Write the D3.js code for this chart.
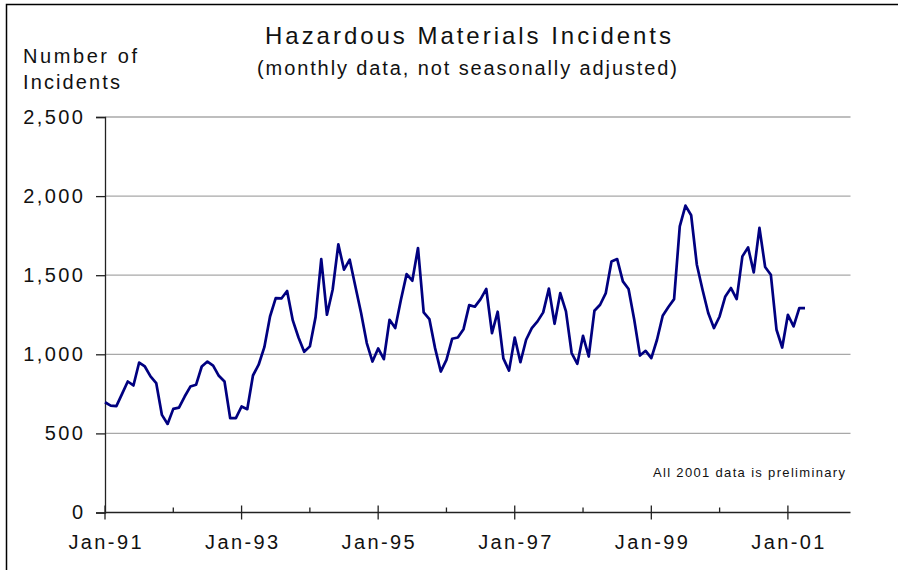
<!DOCTYPE html>
<html>
<head>
<meta charset="utf-8">
<script src="https://cdn.jsdelivr.net/npm/d3@7"></script>
<style>
  body { margin: 0; background: #fff; }
  svg { display: block; font-family: "Liberation Sans", Arial, sans-serif; }
</style>
</head>
<body>
<div id="chart"></div>
<script>
// monthly incidents, Jan-91 .. Apr-01
const startYear = 1991;
const incidents = [
  697, 676, 672, 750, 828, 803, 948, 923, 860, 818, 617, 560,
  655, 663, 733, 796, 807, 923, 954, 929, 864, 828, 596, 596,
  670, 653, 866, 934, 1045, 1239, 1355, 1353, 1400, 1214, 1106, 1016,
  1050, 1235, 1602, 1250, 1408, 1695, 1535, 1598, 1429, 1261, 1071, 954,
  1037, 969, 1218, 1166, 1345, 1507, 1465, 1672, 1265, 1223, 1039, 891,
  965, 1098, 1106, 1159, 1311, 1301, 1349, 1413, 1134, 1269, 974, 897,
  1106, 950, 1092, 1166, 1208, 1265, 1415, 1193, 1387, 1271, 1008, 940,
  1117, 986, 1275, 1313, 1387, 1587, 1602, 1461, 1413, 1218, 992, 1022,
  976, 1092, 1244, 1299, 1349, 1809, 1940, 1879, 1566, 1408, 1261, 1166,
  1239, 1366, 1419, 1349, 1619, 1676, 1518, 1799, 1552, 1503, 1155, 1043,
  1250, 1176, 1292, 1292
];
const xTickLabels = ["Jan-91", "Jan-93", "Jan-95", "Jan-97", "Jan-99", "Jan-01"];
const yTicks = [0, 500, 1000, 1500, 2000, 2500];
const lastMonth = 131; // axis runs to Dec-01

const width = 898, height = 570;
const svg = d3.select("#chart").append("svg")
  .attr("width", width)
  .attr("height", height);

// frame (only top and left edges fall inside the picture)
svg.append("rect")
  .attr("x", 6.5).attr("y", 4.5)
  .attr("width", 920).attr("height", 600)
  .attr("fill", "none").attr("stroke", "#000").attr("stroke-width", 1.5);

const x = d3.scaleLinear().domain([0, lastMonth]).range([105, 850.5]);
const y = d3.scaleLinear().domain([0, 2500]).range([512.5, 117]);

// gridlines
svg.append("g")
  .selectAll("line")
  .data(yTicks.filter(d => d > 0))
  .enter().append("line")
  .attr("x1", x(0)).attr("x2", x(lastMonth))
  .attr("y1", d => y(d)).attr("y2", d => y(d))
  .attr("stroke", "#a8a8a8").attr("stroke-width", 1.3);

// y axis
const yAxis = svg.append("g")
  .attr("transform", "translate(" + x(0) + ",0)")
  .call(d3.axisLeft(y).tickValues(yTicks).tickSize(9).tickPadding(13)
    .tickFormat(d3.format(",")));
yAxis.select(".domain").attr("stroke", "#222").attr("stroke-width", 1.3);
yAxis.selectAll(".tick line").attr("stroke", "#222").attr("stroke-width", 1.3);
yAxis.selectAll("text")
  .attr("font-size", 20).attr("fill", "#111")
  .style("letter-spacing", "2.4px")
  .attr("dx", 2.4);

// x axis: major ticks every other January, minor ticks in between
const majorMonths = xTickLabels.map((d, i) => i * 24);
const minorMonths = xTickLabels.map((d, i) => i * 24 + 12).filter(m => m <= lastMonth);

const xg = svg.append("g");
xg.append("line")
  .attr("x1", x(0)).attr("x2", x(lastMonth))
  .attr("y1", y(0)).attr("y2", y(0))
  .attr("stroke", "#222").attr("stroke-width", 1.3);
xg.selectAll(".major")
  .data(majorMonths)
  .enter().append("line")
  .attr("class", "major")
  .attr("x1", d => x(d)).attr("x2", d => x(d))
  .attr("y1", y(0) - 7).attr("y2", y(0) + 7)
  .attr("stroke", "#222").attr("stroke-width", 1.3);
xg.selectAll(".minor")
  .data(minorMonths)
  .enter().append("line")
  .attr("class", "minor")
  .attr("x1", d => x(d)).attr("x2", d => x(d))
  .attr("y1", y(0) - 5).attr("y2", y(0))
  .attr("stroke", "#222").attr("stroke-width", 1.3);
xg.selectAll("text")
  .data(xTickLabels)
  .enter().append("text")
  .attr("x", (d, i) => x(majorMonths[i]) + 1.2)
  .attr("y", 549)
  .attr("text-anchor", "middle")
  .attr("font-size", 20).attr("fill", "#111")
  .style("letter-spacing", "2.4px")
  .text(d => d);

// data line
const line = d3.line()
  .x((d, i) => x(i))
  .y(d => y(d));

svg.append("path")
  .datum(incidents)
  .attr("d", line)
  .attr("fill", "none")
  .attr("stroke", "#000080")
  .attr("stroke-width", 2.7)
  .attr("stroke-linejoin", "round");

// titles
svg.append("text")
  .attr("x", 468).attr("y", 44)
  .attr("text-anchor", "middle")
  .attr("font-size", 24).attr("fill", "#111")
  .attr("textLength", 406).attr("lengthAdjust", "spacing")
  .text("Hazardous Materials Incidents");

svg.append("text")
  .attr("x", 467).attr("y", 75)
  .attr("text-anchor", "middle")
  .attr("font-size", 20).attr("fill", "#111")
  .attr("textLength", 420).attr("lengthAdjust", "spacing")
  .text("(monthly data, not seasonally adjusted)");

svg.append("text")
  .attr("x", 23).attr("y", 63)
  .attr("font-size", 20).attr("fill", "#111")
  .attr("textLength", 114).attr("lengthAdjust", "spacing")
  .text("Number of");

svg.append("text")
  .attr("x", 23).attr("y", 88.5)
  .attr("font-size", 20).attr("fill", "#111")
  .attr("textLength", 97).attr("lengthAdjust", "spacing")
  .text("Incidents");

svg.append("text")
  .attr("x", 653).attr("y", 477)
  .attr("font-size", 13).attr("fill", "#111")
  .attr("textLength", 192).attr("lengthAdjust", "spacing")
  .text("All 2001 data is preliminary");
</script>
</body>
</html>
